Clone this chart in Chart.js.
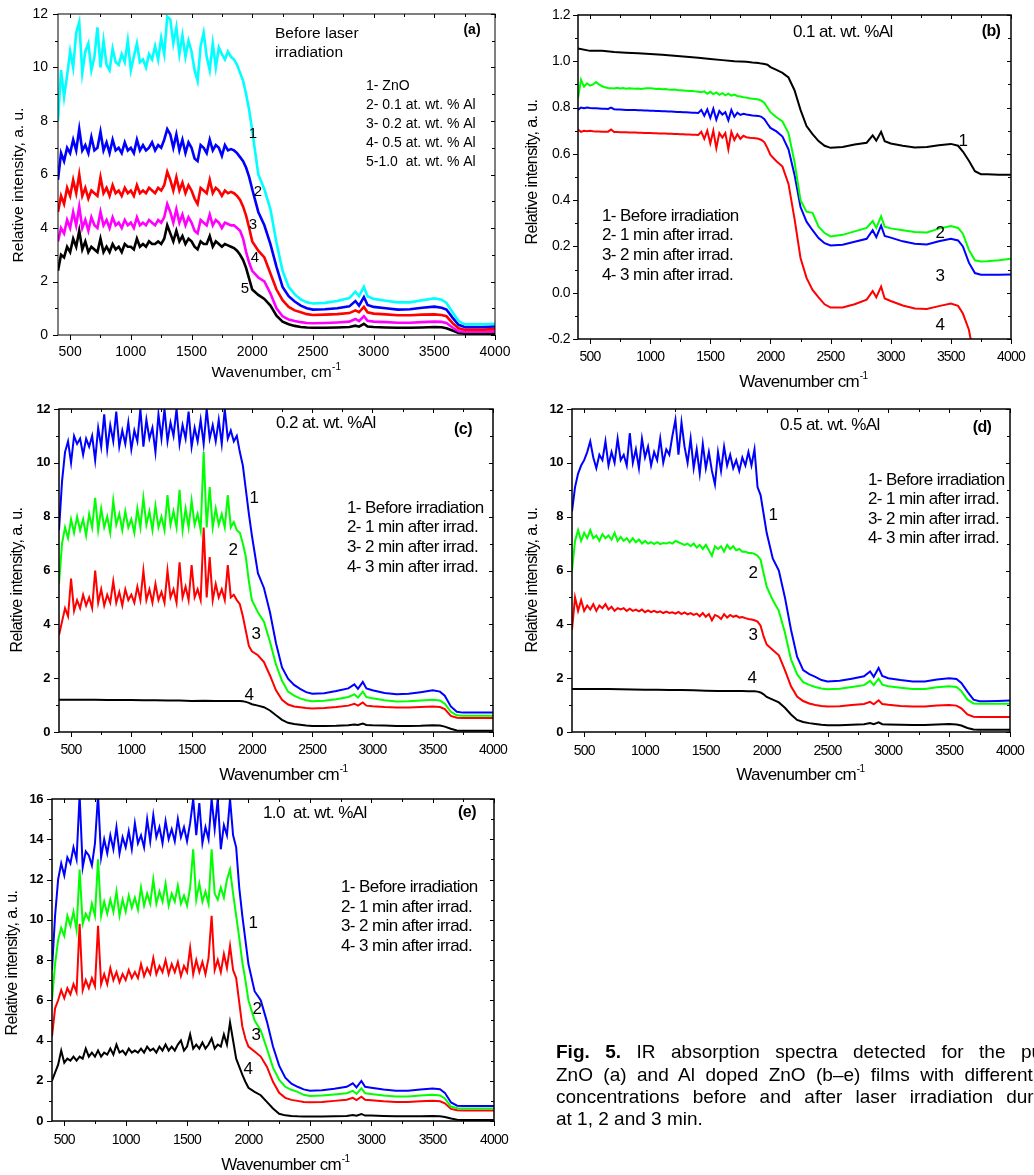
<!DOCTYPE html>
<html><head><meta charset="utf-8">
<script src="https://cdn.jsdelivr.net/npm/chart.js@4.4.0/dist/chart.umd.min.js"></script>
<style>
html,body{margin:0;padding:0;background:#fff;width:1034px;height:1175px;overflow:hidden;position:relative;}
canvas{position:absolute;left:0;top:0;}
.cap{position:absolute;left:556px;width:503px;font-family:'Liberation Sans',Arial,sans-serif;font-size:19px;line-height:22px;color:#000;text-align:justify;text-align-last:justify;}
.cap.last{text-align:left;text-align-last:left;}
</style></head><body>
<canvas id="ca" width="1034" height="1175"></canvas>
<canvas id="cb" width="1034" height="1175"></canvas>
<canvas id="cc" width="1034" height="1175"></canvas>
<canvas id="cd" width="1034" height="1175"></canvas>
<canvas id="ce" width="1034" height="1175"></canvas>
<div class="cap" style="top:1041px"><b>Fig. 5.</b> IR absorption spectra detected for the pure</div>
<div class="cap" style="top:1064px">ZnO (a) and Al doped ZnO (b–e) films with different Al</div>
<div class="cap" style="top:1086px">concentrations before and after laser irradiation during</div>
<div class="cap last" style="top:1108px">at 1, 2 and 3 min.</div>
<script>
// ---------------- shared x grids (wavenumber, cm-1) ----------------
const X_FINE = [400,425,450,475,500,525,550,575,600,625,
  650,675,700,725,750,775,800,825,850,875,
  900,925,950,975,1000,1025,1050,1075,1100,1125,
  1150,1175,1200,1225,1250,1275,1300,1325,1350,1375,
  1400,1425,1450,1475,1500,1525,1550,1575,1600,1625,
  1650,1675,1700,1725,1750,1775,1800,1825,1850,1875];
const X_COARSE = [400,500,600,700,800,900,1000,1100,1200,1300,1400,1500,1600,1700,1800,1850];
const X_TAIL = [1900,1925,1950,1975,2000, 2050,2100,2150,2200,2250, 2300,2350,2400,2450,2500,
  2600,2700,2800,2850,2880, 2920,2950,3000,3100,3200, 3300,3400,3500,3560,3600,
  3650,3700,3750,3800,3900, 4000];

// ---------------- tick labels ----------------
const X_TICKS = [500,1000,1500,2000,2500,3000,3500,4000];
const X_MINOR = [750,1250,1750,2250,2750,3250,3750];
const A_Y_TICKS = [0,2,4,6,8,10,12];
const A_Y_MINOR = [1,3,5,7,9,11];
const B_Y_TICKS = [-0.2,0.0,0.2,0.4,0.6,0.8,1.0,1.2];
const B_Y_MINOR = [-0.1,0.1,0.3,0.5,0.7,0.9,1.1];
const CD_Y_TICKS = [0,2,4,6,8,10,12];
const CD_Y_MINOR = [1,3,5,7,9,11];
const E_Y_TICKS = [0,2,4,6,8,10,12,14,16];
const E_Y_MINOR = [1,3,5,7,9,11,13,15];

// ---------------- panel (a): before laser irradiation ----------------
const A1_HEAD = [8.0,9.9,8.9,9.7,10.6,10.0,11.3,11.7,9.8,10.6,
  10.9,9.9,10.4,11.5,10.0,11.0,10.1,9.9,10.7,10.2,
  10.1,10.5,10.2,11.0,9.9,10.4,10.9,10.2,10.3,10.0,
  10.5,10.3,10.8,10.3,11.1,10.5,11.9,11.8,10.9,11.5,
  10.5,11.2,10.4,11.0,10.6,9.9,9.5,10.8,11.3,10.4,
  9.9,10.9,10.0,10.75,10.5,10.3,10.6,10.4,10.3,10.1];
const A1_TAIL = [9.8,9.5,9.0,8.4,7.65, 6.0,5.45,4.7,3.45,2.4, 1.8,1.52,1.33,1.22,1.18,
  1.2,1.27,1.38,1.62,1.45, 1.8,1.45,1.35,1.28,1.22, 1.22,1.3,1.37,1.32,1.2, 0.85,0.52,0.4,0.4,0.4, 0.42];
const A2_HEAD = [5.8,6.8,6.5,7.0,6.8,7.3,6.9,7.7,6.9,7.1,
  6.8,7.4,6.9,7.0,7.6,6.9,7.2,6.8,7.3,6.9,
  7.0,6.8,7.2,6.9,7.0,6.8,7.3,6.9,7.1,6.9,
  7.0,7.2,6.9,7.1,7.0,7.3,7.7,7.5,7.0,7.5,
  6.9,7.3,6.8,7.2,7.0,6.6,6.5,7.1,7.0,6.8,
  7.3,6.9,7.1,7.0,6.7,7.1,6.9,6.95,6.9,6.8];
const A2_TAIL = [6.65,6.5,6.25,5.9,5.45, 4.6,4.1,3.4,2.55,1.8, 1.45,1.25,1.1,1.0,0.95,
  0.96,1.0,1.07,1.27,1.1, 1.42,1.12,1.05,1.0,0.95, 0.96,1.02,1.06,1.02,0.95, 0.65,0.38,0.3,0.3,0.3, 0.32];
const A3_HEAD = [4.6,5.2,4.9,5.5,5.2,5.8,5.3,6.0,5.2,5.5,
  5.1,5.4,5.3,5.2,5.9,5.3,5.5,5.2,5.6,5.3,
  5.4,5.2,5.5,5.3,5.4,5.2,5.6,5.3,5.4,5.3,
  5.5,5.4,5.3,5.5,5.4,5.6,6.1,5.8,5.4,5.9,
  5.4,5.7,5.3,5.6,5.4,5.1,4.9,5.5,5.4,5.3,
  5.8,5.3,5.5,5.4,5.2,5.4,5.3,5.35,5.3,5.2];
const A3_TAIL = [5.05,4.8,4.45,4.0,3.5, 3.15,2.9,2.3,1.7,1.3, 1.05,0.92,0.85,0.78,0.75,
  0.76,0.78,0.82,0.92,0.85, 1.05,0.85,0.8,0.77,0.74, 0.74,0.76,0.77,0.75,0.7, 0.45,0.25,0.2,0.2,0.2, 0.22];
const A4_HEAD = [3.5,4.0,3.8,4.3,4.0,4.6,4.1,4.8,4.0,4.3,
  3.9,4.4,4.1,4.0,4.6,4.1,4.3,4.0,4.4,4.1,
  4.2,4.0,4.3,4.1,4.2,4.0,4.4,4.1,4.2,4.1,
  4.3,4.2,4.1,4.3,4.2,4.4,4.9,4.6,4.2,4.7,
  4.2,4.5,4.1,4.4,4.2,3.9,3.8,4.3,4.2,4.1,
  4.5,4.1,4.3,4.2,4.0,4.2,4.15,4.1,4.1,4.0];
const A4_TAIL = [3.9,3.6,3.1,2.7,2.4, 2.15,2.0,1.55,1.0,0.7, 0.58,0.52,0.48,0.45,0.44,
  0.45,0.47,0.5,0.6,0.52, 0.7,0.53,0.5,0.48,0.46, 0.46,0.48,0.5,0.49,0.45, 0.28,0.14,0.12,0.12,0.12, 0.13];
const A5_HEAD = [2.4,3.0,2.9,3.3,3.1,3.6,3.3,3.9,3.2,3.5,
  3.1,3.3,3.2,3.1,3.6,3.1,3.3,3.1,3.4,3.2,
  3.3,3.1,3.4,3.3,3.3,3.2,3.6,3.3,3.4,3.3,
  3.5,3.4,3.4,3.5,3.4,3.6,4.1,3.8,3.5,3.9,
  3.5,3.7,3.4,3.6,3.5,3.3,3.2,3.5,3.4,3.4,
  3.7,3.3,3.5,3.4,3.3,3.4,3.35,3.3,3.25,3.15];
const A5_TAIL = [3.0,2.8,2.5,2.1,1.7, 1.5,1.35,1.1,0.72,0.5, 0.4,0.34,0.3,0.28,0.27,
  0.27,0.28,0.3,0.35,0.31, 0.42,0.32,0.3,0.28,0.27, 0.27,0.28,0.3,0.29,0.25, 0.17,0.08,0.05,0.05,0.05, 0.05];

// ---------------- panel (b): 0.1 at. wt. % Al ----------------
const B1_HEAD = [1.055,1.045,1.045,1.04,1.037,1.035,1.032,1.028,1.024,1.02,1.015,1.01,1.005,1.0,0.998,0.995];
const B1_TAIL = [0.993,0.99,0.988,0.985,0.975, 0.963,0.95,0.93,0.875,0.79, 0.72,0.685,0.655,0.635,0.626,
  0.63,0.64,0.648,0.68,0.657, 0.695,0.655,0.645,0.635,0.628, 0.63,0.637,0.643,0.635,0.61, 0.57,0.525,0.512,0.512,0.51, 0.51];
const B2_HEAD = [0.84,0.92,0.89,0.905,0.895,0.9,0.91,0.9,0.892,0.888,
  0.885,0.884,0.882,0.885,0.882,0.884,0.881,0.883,0.882,0.881,
  0.882,0.88,0.882,0.883,0.884,0.882,0.88,0.881,0.879,0.88,
  0.878,0.877,0.878,0.876,0.875,0.874,0.873,0.872,0.872,0.87,
  0.868,0.866,0.87,0.86,0.868,0.858,0.865,0.855,0.862,0.853,
  0.86,0.852,0.856,0.85,0.848,0.845,0.843,0.84,0.838,0.837];
const B2_TAIL = [0.835,0.83,0.82,0.8,0.78, 0.758,0.74,0.69,0.565,0.4, 0.35,0.345,0.285,0.258,0.243,
  0.25,0.265,0.28,0.31,0.28, 0.33,0.285,0.278,0.27,0.262, 0.26,0.277,0.288,0.28,0.255, 0.185,0.14,0.135,0.136,0.14, 0.147];
const B3_HEAD = [0.79,0.8,0.797,0.8,0.798,0.797,0.797,0.796,0.795,0.795,
  0.794,0.8,0.793,0.792,0.792,0.791,0.79,0.79,0.789,0.789,
  0.788,0.788,0.787,0.787,0.786,0.786,0.785,0.785,0.784,0.784,
  0.783,0.783,0.782,0.781,0.781,0.78,0.78,0.779,0.778,0.778,
  0.777,0.79,0.765,0.792,0.755,0.795,0.748,0.785,0.77,0.78,
  0.745,0.79,0.76,0.778,0.768,0.773,0.77,0.768,0.766,0.765];
const B3_TAIL = [0.764,0.76,0.75,0.73,0.712, 0.697,0.675,0.62,0.51,0.37, 0.307,0.27,0.236,0.214,0.204,
  0.207,0.22,0.233,0.27,0.24, 0.29,0.245,0.238,0.222,0.212, 0.208,0.222,0.233,0.226,0.2, 0.13,0.085,0.078,0.078,0.078, 0.079];
const B4_HEAD = [0.705,0.695,0.7,0.698,0.7,0.698,0.697,0.697,0.696,0.696,
  0.696,0.705,0.694,0.694,0.693,0.693,0.693,0.692,0.692,0.692,
  0.691,0.691,0.69,0.69,0.69,0.689,0.689,0.688,0.688,0.688,
  0.687,0.687,0.686,0.686,0.685,0.685,0.684,0.684,0.683,0.683,
  0.682,0.695,0.665,0.7,0.645,0.7,0.625,0.69,0.67,0.69,
  0.62,0.695,0.66,0.685,0.665,0.678,0.672,0.67,0.668,0.667];
const B4_TAIL = [0.665,0.66,0.65,0.625,0.595, 0.568,0.545,0.47,0.32,0.15, 0.064,0.012,-0.02,-0.05,-0.064,
  -0.064,-0.05,-0.03,0.007,-0.02, 0.026,-0.025,-0.036,-0.055,-0.068, -0.07,-0.058,-0.047,-0.057,-0.09, -0.16,-0.3,-0.4,-0.4,-0.4, -0.4];

// ---------------- panel (c): 0.2 at. wt. % Al ----------------
const C1_HEAD = [7.5,9.3,10.4,10.8,10.0,11.0,10.7,10.9,10.3,10.9,
  10.6,11.0,10.1,11.3,10.6,11.8,10.5,11.4,10.8,11.9,
  10.6,11.2,10.7,11.5,10.5,11.2,10.8,12.0,10.6,11.6,
  10.9,11.3,10.4,11.8,10.9,12.0,10.8,11.5,11.0,12.0,
  10.7,11.4,10.9,11.9,10.6,11.3,10.8,11.6,10.7,12.0,
  10.9,11.4,10.8,11.6,10.7,12.0,10.9,11.2,10.8,11.0];
const C1_TAIL = [10.4,9.9,9.0,8.1,7.3, 5.9,5.35,4.45,3.3,2.4, 1.98,1.75,1.6,1.48,1.42,
  1.44,1.52,1.62,1.77,1.6, 1.86,1.62,1.55,1.45,1.4, 1.42,1.48,1.55,1.5,1.35, 0.95,0.75,0.72,0.72,0.72, 0.72];
const C2_HEAD = [5.5,7.0,7.6,7.2,7.9,7.4,8.0,7.5,7.9,7.3,
  8.1,7.6,8.7,7.5,8.3,7.6,8.0,7.4,8.6,7.7,
  8.1,7.5,8.2,7.6,7.9,7.4,8.3,7.6,8.7,7.7,
  8.2,7.5,8.4,7.6,8.0,7.5,8.8,7.7,8.2,7.6,
  9.0,7.5,8.3,7.6,8.6,7.7,8.1,7.5,10.4,7.6,
  9.1,7.6,8.3,7.7,8.1,7.6,8.8,7.6,7.8,7.5];
const C2_TAIL = [7.4,7.0,6.5,5.6,4.9, 4.45,4.1,3.35,2.5,1.9, 1.5,1.35,1.25,1.18,1.14,
  1.16,1.22,1.3,1.4,1.28, 1.5,1.3,1.25,1.18,1.13, 1.14,1.17,1.2,1.17,1.05, 0.75,0.62,0.6,0.6,0.6, 0.6];
const C3_HEAD = [3.6,4.1,4.6,4.3,5.7,4.5,4.9,4.6,5.1,4.7,
  5.0,4.6,6.0,4.8,5.3,4.7,5.1,4.8,5.6,4.8,
  5.2,4.7,5.3,4.9,5.1,4.8,5.4,4.9,6.0,4.9,
  5.3,4.8,5.5,4.9,5.2,4.8,6.0,5.0,5.3,4.8,
  6.3,5.0,5.4,4.9,6.2,5.0,5.3,4.9,7.6,5.0,
  6.5,4.9,5.5,5.0,5.3,4.9,6.2,5.0,5.1,4.9];
const C3_TAIL = [4.75,4.3,3.75,3.2,3.0, 2.85,2.6,2.1,1.55,1.2, 1.02,0.95,0.92,0.89,0.87,
  0.89,0.93,0.98,1.05,0.98, 1.1,0.98,0.96,0.93,0.91, 0.91,0.93,0.95,0.93,0.85, 0.6,0.53,0.52,0.52,0.52, 0.52];
const C4_HEAD = [1.2,1.2,1.2,1.2,1.19,1.19,1.19,1.18,1.18,1.17,1.17,1.15,1.16,1.15,1.15,1.15];
const C4_TAIL = [1.15,1.14,1.12,1.08,1.03, 0.98,0.92,0.8,0.62,0.45, 0.34,0.3,0.27,0.24,0.22,
  0.22,0.23,0.25,0.28,0.26, 0.31,0.26,0.25,0.24,0.22, 0.22,0.23,0.25,0.24,0.2, 0.12,0.06,0.05,0.05,0.05, 0.05];

// ---------------- panel (d): 0.5 at. wt. % Al ----------------
const D1_HEAD = [8.2,9.1,9.6,9.9,10.1,10.4,10.8,10.2,9.8,10.3,
  10.1,10.8,9.9,10.4,10.0,10.9,10.1,10.3,9.9,11.1,
  10.0,10.5,9.8,10.9,10.2,10.6,9.9,10.4,10.1,10.9,
  10.0,10.5,10.3,11.0,11.6,10.3,11.5,10.6,10.0,10.9,
  9.8,10.5,9.6,10.7,9.8,10.4,9.7,9.2,10.4,9.7,
  10.6,9.9,10.3,9.8,10.1,9.7,10.2,9.9,10.4,9.9];
const D1_TAIL = [10.5,9.1,8.8,8.1,7.4, 6.45,6.0,5.0,3.8,2.8, 2.3,2.15,2.05,1.93,1.88,
  1.9,1.98,2.07,2.25,2.05, 2.38,2.08,2.0,1.93,1.88, 1.88,1.95,2.0,1.97,1.82, 1.5,1.2,1.14,1.14,1.15, 1.17];
const D2_HEAD = [6.0,7.1,7.5,7.1,7.4,7.2,7.5,7.2,7.3,7.1,
  7.35,7.2,7.3,7.15,7.4,7.1,7.25,7.1,7.2,7.05,
  7.2,7.05,7.15,7.0,7.1,7.0,7.05,6.98,7.05,6.98,
  7.02,7.0,7.05,7.0,7.1,7.05,7.0,6.95,7.0,6.9,
  7.0,6.85,6.95,6.8,6.95,6.75,6.55,6.9,6.8,6.9,
  6.7,6.95,6.8,6.9,6.75,6.8,6.7,6.7,6.65,6.65];
const D2_TAIL = [6.62,6.55,6.4,5.9,5.4, 4.9,4.5,3.7,2.7,2.15, 1.85,1.75,1.67,1.62,1.59,
  1.61,1.67,1.74,1.9,1.74, 1.98,1.76,1.7,1.64,1.6, 1.6,1.66,1.7,1.67,1.52, 1.2,1.06,1.05,1.05,1.05, 1.05];
const D3_HEAD = [3.8,5.0,4.5,4.9,4.5,4.7,4.55,4.75,4.5,4.7,
  4.6,4.75,4.55,4.65,4.5,4.6,4.55,4.6,4.5,4.58,
  4.5,4.55,4.48,4.55,4.45,4.52,4.45,4.5,4.44,4.48,
  4.42,4.47,4.42,4.45,4.4,4.46,4.38,4.44,4.37,4.42,
  4.35,4.4,4.3,4.42,4.28,4.38,4.15,4.35,4.3,4.2,
  4.38,4.25,4.35,4.28,4.32,4.25,4.27,4.23,4.2,4.18];
const D3_TAIL = [4.15,4.1,3.95,3.55,3.25, 3.05,2.85,2.3,1.7,1.32, 1.15,1.06,1.0,0.97,0.95,
  0.96,1.0,1.04,1.12,1.03, 1.18,1.04,1.01,0.97,0.95, 0.95,0.98,1.0,0.98,0.88, 0.65,0.57,0.56,0.56,0.56, 0.56];
const D4_HEAD = [1.6,1.6,1.6,1.6,1.59,1.58,1.57,1.57,1.56,1.56,1.55,1.53,1.52,1.52,1.52,1.51];
const D4_TAIL = [1.51,1.5,1.47,1.4,1.3, 1.2,1.1,0.9,0.65,0.45, 0.37,0.33,0.3,0.27,0.25,
  0.25,0.27,0.29,0.33,0.29, 0.36,0.29,0.28,0.27,0.26, 0.26,0.28,0.3,0.28,0.24, 0.15,0.09,0.08,0.08,0.08, 0.08];

// ---------------- panel (e): 1.0 at. wt. % Al ----------------
const E1_HEAD = [7.5,10.2,12.0,12.8,12.2,13.1,12.8,13.6,13.0,16.2,
  12.6,13.4,13.2,12.7,13.8,16.2,13.1,14.0,13.3,14.2,
  13.5,14.6,13.3,14.1,13.6,14.4,13.5,14.8,13.8,14.2,
  13.6,15.0,13.9,15.2,14.1,14.6,13.8,14.9,14.0,14.5,
  13.9,15.0,14.1,14.6,13.9,14.8,16.0,14.2,15.8,13.8,
  14.6,14.0,16.0,14.5,16.0,13.5,14.7,14.2,16.0,14.2];
const E1_TAIL = [13.6,11.6,10.2,9.0,7.8, 6.45,6.0,4.95,3.7,2.75, 2.15,1.85,1.7,1.57,1.5,
  1.53,1.6,1.7,1.87,1.67, 1.99,1.7,1.65,1.56,1.5, 1.5,1.57,1.62,1.58,1.4, 0.92,0.76,0.75,0.75,0.75, 0.75];
const E2_HEAD = [6.0,7.8,9.0,9.6,9.2,10.2,9.7,10.4,9.5,12.5,
  9.8,10.3,10.0,10.8,10.2,13.0,10.2,10.9,10.3,11.0,
  10.4,11.4,10.2,11.0,10.4,11.2,10.6,11.1,10.5,11.6,
  10.7,11.3,10.8,12.0,10.8,11.4,10.9,11.8,10.7,11.3,
  10.9,11.7,10.8,11.2,10.7,11.6,13.5,11.0,11.8,10.9,
  11.4,10.8,13.5,11.3,11.0,11.6,11.1,12.0,12.5,11.3];
const E2_TAIL = [10.2,9.1,7.9,7.0,6.0, 5.0,4.5,3.6,2.65,2.05, 1.7,1.55,1.45,1.3,1.24,
  1.27,1.32,1.38,1.5,1.35, 1.62,1.38,1.34,1.27,1.22, 1.22,1.27,1.3,1.27,1.12, 0.72,0.63,0.62,0.62,0.62, 0.62];
const E3_HEAD = [4.2,5.6,6.0,6.5,6.1,6.6,6.3,6.8,6.4,9.8,
  6.5,7.0,6.6,7.1,6.7,9.7,6.8,7.3,6.8,7.6,
  7.0,7.4,6.9,7.3,7.0,7.5,7.1,7.4,7.1,7.8,
  7.2,7.6,7.3,8.1,7.3,7.7,7.4,8.0,7.3,7.8,
  7.4,7.9,7.2,7.7,7.4,8.6,7.3,8.0,7.4,7.9,
  7.3,8.1,10.2,7.5,8.0,7.4,8.3,7.6,8.7,7.5];
const E3_TAIL = [7.1,5.9,4.7,4.1,3.7, 3.45,3.2,2.7,1.95,1.4, 1.15,1.05,1.0,0.95,0.93,
  0.95,1.0,1.06,1.15,1.04, 1.21,1.05,1.03,0.98,0.95, 0.95,0.98,1.0,0.98,0.88, 0.6,0.53,0.52,0.52,0.52, 0.52];
const E4_HEAD = [2.0,2.4,2.8,3.5,2.9,3.1,3.0,3.2,3.0,3.2,
  3.1,3.6,3.2,3.4,3.2,3.5,3.2,3.4,3.3,3.6,
  3.3,3.8,3.4,3.5,3.3,3.6,3.4,3.5,3.4,3.6,
  3.4,3.7,3.5,3.6,3.4,3.7,3.5,3.8,3.5,3.7,
  3.5,3.8,4.0,3.5,3.7,4.3,3.6,3.8,3.6,3.9,
  3.6,3.8,4.1,3.6,3.8,3.7,4.3,3.8,4.9,4.0];
const E4_TAIL = [3.1,2.7,2.3,1.95,1.65, 1.45,1.28,0.95,0.62,0.36, 0.28,0.25,0.23,0.22,0.22,
  0.22,0.23,0.25,0.3,0.26, 0.35,0.27,0.27,0.25,0.24, 0.24,0.24,0.25,0.24,0.2, 0.12,0.06,0.05,0.05,0.05, 0.05];

// ---------------- helpers ----------------
const FF = "'Liberation Sans', Arial, Helvetica, sans-serif";
function pts(xh, yh, xt, yt){
  const out = [];
  for (let i = 0; i < xh.length; i++) out.push({x: xh[i], y: yh[i]});
  for (let i = 0; i < xt.length; i++) out.push({x: xt[i], y: yt[i]});
  return out;
}
function ds(data, color, lw){
  return {data: data, borderColor: color, backgroundColor: color, borderWidth: lw,
    pointRadius: 0, fill: false, tension: 0, clip: 0};
}
function txt(ctx, s, x, y, font, align, ls){
  ctx.save();
  ctx.font = font + ' ' + FF;
  try { ctx.letterSpacing = ls || '0px'; } catch(e) {}
  ctx.fillStyle = '#000';
  ctx.textAlign = align || 'left';
  ctx.textBaseline = 'middle';
  ctx.fillText(s, x, y);
  ctx.restore();
}
function supTitle(ctx, main, sup, cx, cy, font, supFont, ls){
  ctx.save();
  try { ctx.letterSpacing = ls || '0px'; } catch(e) {}
  ctx.font = font + ' ' + FF;
  const w1 = ctx.measureText(main).width;
  ctx.font = supFont + ' ' + FF;
  const w2 = ctx.measureText(sup).width;
  const x0 = cx - (w1 + w2) / 2;
  ctx.fillStyle = '#000';
  ctx.textBaseline = 'middle';
  ctx.textAlign = 'left';
  ctx.font = font + ' ' + FF;
  ctx.fillText(main, x0, cy);
  ctx.font = supFont + ' ' + FF;
  ctx.fillText(sup, x0 + w1 + 0.5, cy - 6);
  ctx.restore();
}

function makeDecor(c){
  return {
    id: 'decor',
    afterDraw(chart){
      const ctx = chart.ctx, xs = chart.scales.x, ys = chart.scales.y;
      const a = chart.chartArea;
      ctx.save();
      ctx.strokeStyle = '#000';
      ctx.lineWidth = c.frame;
      ctx.strokeRect(a.left, a.top, a.right - a.left, a.bottom - a.top);
      ctx.lineWidth = 1;
      ctx.beginPath();
      const tk = (x1,y1,x2,y2) => { ctx.moveTo(x1,y1); ctx.lineTo(x2,y2); };
      X_TICKS.forEach(v => { const p = Math.round(xs.getPixelForValue(v)) + 0.5;
        tk(p, a.bottom, p, a.bottom + 5); tk(p, a.top, p, a.top + 4); });
      X_MINOR.forEach(v => { const p = Math.round(xs.getPixelForValue(v)) + 0.5;
        tk(p, a.bottom, p, a.bottom + 3); tk(p, a.top, p, a.top + 3); });
      c.yTicks.forEach(v => { const p = Math.round(ys.getPixelForValue(v)) + 0.5;
        tk(a.left, p, a.left - 5, p); tk(a.right, p, a.right - 4, p); });
      c.yMinor.forEach(v => { const p = Math.round(ys.getPixelForValue(v)) + 0.5;
        tk(a.left, p, a.left - 3, p); tk(a.right, p, a.right - 3, p); });
      ctx.stroke();
      ctx.restore();
      X_TICKS.forEach(v => txt(ctx, String(v), xs.getPixelForValue(v), c.xLabelY, c.xFont, 'center', c.xLS));
      c.yTicks.forEach(v => txt(ctx, c.yFmt(v), c.yLabelRight, ys.getPixelForValue(v), c.yFont, 'right', c.yLS));
      supTitle(ctx, c.xTitle[0], '-1', c.xTitle[1], c.xTitle[2], c.titleFont, '10px', c.titleLS);
      ctx.save();
      ctx.translate(c.yTitle[1], c.yTitle[2]);
      ctx.rotate(-Math.PI / 2);
      txt(ctx, c.yTitle[0], 0, 0, c.yTitleFont, 'center', c.titleLS);
      ctx.restore();
      c.texts.forEach(t => txt(ctx, t[0], t[1], t[2], t[3], t[4] || 'left', t[5] || c.textLS));
    }
  };
}

function panel(id, area, yMin, yMax, datasets, deco){
  return new Chart(document.getElementById(id), {
    type: 'line',
    data: {datasets: datasets},
    options: {
      responsive: false, animation: false, devicePixelRatio: 1,
      layout: {padding: {left: area[0], top: area[1], right: 1034 - area[2], bottom: 1175 - area[3]}},
      scales: {
        x: {type: 'linear', min: 400, max: 4000, display: false},
        y: {type: 'linear', min: yMin, max: yMax, display: false}
      },
      plugins: {legend: {display: false}, tooltip: {enabled: false}}
    },
    plugins: [makeDecor(deco)]
  });
}

const intFmt = v => String(v);
const oneDec = v => v.toFixed(1);
const LEG = ['1- Before irradiation', '2- 1 min after irrad.', '3- 2 min after irrad.', '4- 3 min after irrad.'];

// (a)
panel('ca', [58, 14, 495, 335], 0, 12, [
  ds(pts(X_FINE, A1_HEAD, X_TAIL, A1_TAIL), '#00ffff', 2.6),
  ds(pts(X_FINE, A2_HEAD, X_TAIL, A2_TAIL), '#0000ff', 2.6),
  ds(pts(X_FINE, A3_HEAD, X_TAIL, A3_TAIL), '#ff0000', 2.6),
  ds(pts(X_FINE, A4_HEAD, X_TAIL, A4_TAIL), '#ff00ff', 2.6),
  ds(pts(X_FINE, A5_HEAD, X_TAIL, A5_TAIL), '#000000', 2.6)
], {
  frame: 1, yTicks: A_Y_TICKS, yMinor: A_Y_MINOR, yFmt: intFmt,
  xFont: '14px', xLS: '0px', yFont: '14px', yLS: '0px', xLabelY: 352, yLabelRight: 48,
  xTitle: ['Wavenumber, cm', 276, 373], yTitle: ['Relative intensity, a. u.', 19, 185],
  titleFont: '15.5px', yTitleFont: '15.5px', titleLS: '0px', textLS: '0px',
  texts: [
    ['Before laser', 275, 34, '15.5px'], ['irradiation', 275, 53, '15.5px'],
    ['(a)', 472, 30, 'bold 14px', 'center'],
    ['1- ZnO', 366, 86, '14px'], ['2- 0.1 at. wt. % Al', 366, 105, '14px'],
    ['3- 0.2 at. wt. % Al', 366, 124, '14px'], ['4- 0.5 at. wt. % Al', 366, 143, '14px'],
    ['5-1.0  at. wt. % Al', 366, 162, '14px'],
    ['1', 253, 134, '15px', 'center'], ['2', 258, 192, '15px', 'center'], ['3', 253, 225, '15px', 'center'],
    ['4', 255, 258, '15px', 'center'], ['5', 245, 289, '15px', 'center']
  ]
});

const condensedDeco = (extra) => Object.assign({
  frame: 1.5, xFont: '14px', xLS: '-0.8px', yLS: '-0.5px',
  titleFont: '17px', yTitleFont: '16px', titleLS: '-0.6px', textLS: '-0.6px'
}, extra);

// (b)
panel('cb', [578, 15, 1011, 339], -0.2, 1.2, [
  ds(pts(X_COARSE, B1_HEAD, X_TAIL, B1_TAIL), '#000000', 2),
  ds(pts(X_FINE, B2_HEAD, X_TAIL, B2_TAIL), '#00ff00', 2),
  ds(pts(X_FINE, B3_HEAD, X_TAIL, B3_TAIL), '#0000ff', 2),
  ds(pts(X_FINE, B4_HEAD, X_TAIL, B4_TAIL), '#ff0000', 2)
], condensedDeco({
  yTicks: B_Y_TICKS, yMinor: B_Y_MINOR, yFmt: oneDec, yFont: '14px',
  xLabelY: 357, yLabelRight: 570,
  xTitle: ['Wavenumber cm', 803, 382], yTitle: ['Relative intensity, a. u.', 533, 172],
  texts: [
    ['0.1 at. wt. %Al', 793, 32, '17px'], ['(b)', 991, 32, 'bold 16px', 'center'],
    [LEG[0], 602, 216, '17px'], [LEG[1], 602, 235, '17px'], [LEG[2], 602, 255, '17px'], [LEG[3], 602, 275, '17px'],
    ['1', 963, 141, '17px', 'center'], ['2', 940, 233, '17px', 'center'],
    ['3', 940, 276, '17px', 'center'], ['4', 940, 325, '17px', 'center']
  ]
}));

// (c)
panel('cc', [59, 409, 493, 732], 0, 12, [
  ds(pts(X_FINE, C1_HEAD, X_TAIL, C1_TAIL), '#0000ff', 2),
  ds(pts(X_FINE, C2_HEAD, X_TAIL, C2_TAIL), '#00ff00', 2),
  ds(pts(X_FINE, C3_HEAD, X_TAIL, C3_TAIL), '#ff0000', 2),
  ds(pts(X_COARSE, C4_HEAD, X_TAIL, C4_TAIL), '#000000', 2)
], condensedDeco({
  yTicks: CD_Y_TICKS, yMinor: CD_Y_MINOR, yFmt: intFmt, yFont: 'bold 13px',
  xLabelY: 750, yLabelRight: 50,
  xTitle: ['Wavenumber cm', 283, 775], yTitle: ['Relative intensity, a. u.', 18, 580],
  texts: [
    ['0.2 at. wt. %Al', 276, 423, '17px'], ['(c)', 463, 430, 'bold 16px', 'center'],
    [LEG[0], 347, 508, '17px'], [LEG[1], 347, 527, '17px'], [LEG[2], 347, 547, '17px'], [LEG[3], 347, 567, '17px'],
    ['1', 254, 498, '17px', 'center'], ['2', 233, 550, '17px', 'center'],
    ['3', 256, 634, '17px', 'center'], ['4', 249, 695, '17px', 'center']
  ]
}));

// (d)
panel('cd', [572, 409, 1010, 732], 0, 12, [
  ds(pts(X_FINE, D1_HEAD, X_TAIL, D1_TAIL), '#0000ff', 2),
  ds(pts(X_FINE, D2_HEAD, X_TAIL, D2_TAIL), '#00ff00', 2),
  ds(pts(X_FINE, D3_HEAD, X_TAIL, D3_TAIL), '#ff0000', 2),
  ds(pts(X_COARSE, D4_HEAD, X_TAIL, D4_TAIL), '#000000', 2)
], condensedDeco({
  yTicks: CD_Y_TICKS, yMinor: CD_Y_MINOR, yFmt: intFmt, yFont: 'bold 13px',
  xLabelY: 751, yLabelRight: 563,
  xTitle: ['Wavenumber cm', 800, 775], yTitle: ['Relative intensity, a. u.', 533, 580],
  texts: [
    ['0.5 at. wt. %Al', 780, 425, '17px'], ['(d)', 982, 428, 'bold 16px', 'center'],
    [LEG[0], 868, 480, '17px'], [LEG[1], 868, 499, '17px'], [LEG[2], 868, 519, '17px'], [LEG[3], 868, 538, '17px'],
    ['1', 773, 515, '17px', 'center'], ['2', 753, 573, '17px', 'center'],
    ['3', 753, 635, '17px', 'center'], ['4', 752, 678, '17px', 'center']
  ]
}));

// (e)
panel('ce', [52, 799, 494, 1121], 0, 16, [
  ds(pts(X_FINE, E1_HEAD, X_TAIL, E1_TAIL), '#0000ff', 2),
  ds(pts(X_FINE, E2_HEAD, X_TAIL, E2_TAIL), '#00ff00', 2),
  ds(pts(X_FINE, E3_HEAD, X_TAIL, E3_TAIL), '#ff0000', 2),
  ds(pts(X_FINE, E4_HEAD, X_TAIL, E4_TAIL), '#000000', 2)
], condensedDeco({
  yTicks: E_Y_TICKS, yMinor: E_Y_MINOR, yFmt: intFmt, yFont: 'bold 13px',
  xLabelY: 1140, yLabelRight: 43,
  xTitle: ['Wavenumber cm', 285, 1165], yTitle: ['Relative intensity, a. u.', 13, 963],
  texts: [
    ['1.0  at. wt. %Al', 263, 813, '17px'], ['(e)', 467, 813, 'bold 16px', 'center'],
    [LEG[0], 341, 887, '17px'], [LEG[1], 341, 907, '17px'], [LEG[2], 341, 926, '17px'], [LEG[3], 341, 946, '17px'],
    ['1', 253, 923, '17px', 'center'], ['2', 257, 1009, '17px', 'center'],
    ['3', 256, 1035, '17px', 'center'], ['4', 248, 1069, '17px', 'center']
  ]
}));
</script>
</body></html>
